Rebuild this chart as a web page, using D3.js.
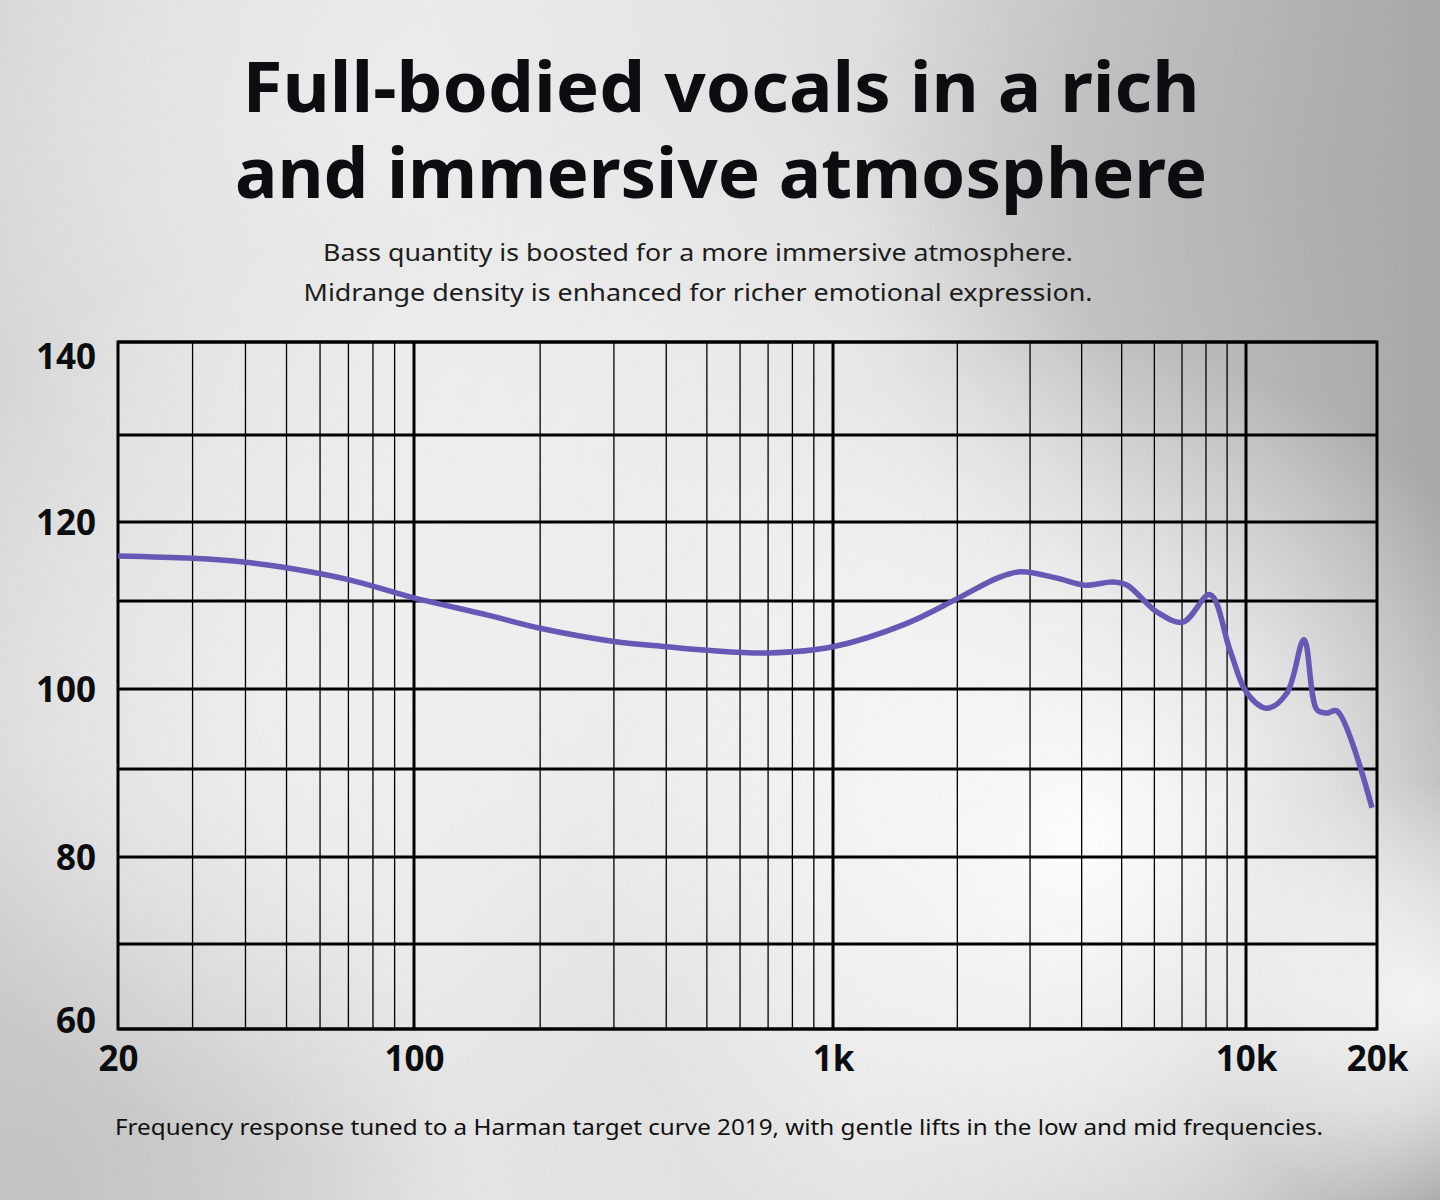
<!DOCTYPE html>
<html>
<head>
<meta charset="utf-8">
<script src="https://cdn.jsdelivr.net/npm/d3@7"></script>
<style>
  html, body { margin: 0; padding: 0; background: #d8d8d8; }
  svg { display: block; }
</style>
</head>
<body>
<div id="chart"></div>
<script>
// frequency response (Hz / dB)
const freqs = [20, 30, 40, 50, 70, 100, 150, 200, 300, 400, 500, 700, 1000, 1500, 2000, 2500, 2835, 3486, 4078, 4757, 5155, 6088, 7040, 8182, 9146, 10050, 11170, 12420, 13590, 14560, 15350, 16180, 19480];
const spl = [115.7, 115.4, 114.9, 114.2, 112.7, 110.4, 108.4, 106.9, 105.4, 104.8, 104.4, 104.1, 104.8, 107.4, 110.3, 112.9, 113.7, 112.9, 112.0, 112.4, 112.0, 108.75, 107.6, 110.8, 104.4, 99.5, 97.6, 99.5, 105.6, 97.4, 97.0, 97.25, 85.6];

const xTickValues = [20, 100, 1000, 10000, 20000];
const xTickLabels = ["20", "100", "1k", "10k", "20k"];
const yTickValues = [60, 80, 100, 120, 140];
const yGridValues = [60, 70, 80, 90, 100, 110, 120, 130, 140];

const titleLines = ["Full-bodied vocals in a rich", "and immersive atmosphere"];
const subLines = ["Bass quantity is boosted for a more immersive atmosphere.", "Midrange density is enhanced for richer emotional expression."];
const footnote = "Frequency response tuned to a Harman target curve 2019, with gentle lifts in the low and mid frequencies.";

const W = 1440, H = 1200;
const plotL = 118, plotR = 1377, plotT = 342, plotB = 1029;

const svg = d3.select("#chart").append("svg")
    .attr("width", W)
    .attr("height", H);

const defs = svg.append("defs");

// background: silver gradient with soft white glows
const lg = defs.append("linearGradient").attr("id", "bgLin")
    .attr("x1", 0).attr("y1", 0).attr("x2", 1).attr("y2", 0);
lg.append("stop").attr("offset", 0).attr("stop-color", "#d6d6d6");
lg.append("stop").attr("offset", 0.3).attr("stop-color", "#e6e6e6");
lg.append("stop").attr("offset", 0.6).attr("stop-color", "#e0e0e0");
lg.append("stop").attr("offset", 0.85).attr("stop-color", "#c2c2c2");
lg.append("stop").attr("offset", 1).attr("stop-color", "#a6a6a6");

function glow(id, cx, cy, r, color, op) {
    const g = defs.append("radialGradient").attr("id", id)
        .attr("gradientUnits", "userSpaceOnUse")
        .attr("cx", cx).attr("cy", cy).attr("r", r);
    g.append("stop").attr("offset", 0).attr("stop-color", color).attr("stop-opacity", op);
    g.append("stop").attr("offset", 0.5).attr("stop-color", color).attr("stop-opacity", op * 0.6);
    g.append("stop").attr("offset", 1).attr("stop-color", color).attr("stop-opacity", 0);
}
glow("darkTR", 1340, 180, 500, "#a8a8a8", 0.55);
glow("darkBL", 30, 1190, 440, "#bcbcbc", 0.75);
glow("glowTop", 380, 120, 460, "#f0f0f0", 0.75);
glow("glowLeft", 330, 700, 460, "#f6f6f6", 0.75);
glow("glowCen", 720, 520, 420, "#f4f4f4", 0.7);
glow("glowMid", 1080, 840, 500, "#ffffff", 1);
glow("glowBR", 1420, 1000, 220, "#ffffff", 0.85);

const noise = defs.append("filter").attr("id", "grain")
    .attr("x", 0).attr("y", 0).attr("width", "100%").attr("height", "100%");
noise.append("feTurbulence").attr("type", "fractalNoise")
    .attr("baseFrequency", 0.9).attr("numOctaves", 2).attr("seed", 3);
noise.append("feColorMatrix").attr("type", "saturate").attr("values", 0);

const bg = svg.append("g");
["bgLin", "darkTR", "darkBL", "glowTop", "glowLeft", "glowCen", "glowMid", "glowBR"].forEach(id => {
    bg.append("rect").attr("width", W).attr("height", H).attr("fill", `url(#${id})`);
});
bg.append("rect").attr("width", W).attr("height", H)
    .attr("filter", "url(#grain)").attr("opacity", 0.07);

// titles
const font = "'Noto Sans', 'Open Sans', sans-serif";
svg.selectAll(".title").data(titleLines).join("text")
    .attr("class", "title")
    .attr("x", 721)
    .attr("y", (d, i) => 112 + i * 86)
    .attr("text-anchor", "middle")
    .attr("font-family", font)
    .attr("font-weight", 700)
    .attr("font-size", 70)
    .attr("fill", "#0b0d10")
    .attr("textLength", (d, i) => i == 0 ? 957 : 972)
    .attr("lengthAdjust", "spacingAndGlyphs")
    .text(d => d);

svg.selectAll(".sub").data(subLines).join("text")
    .attr("class", "sub")
    .attr("x", 698)
    .attr("y", (d, i) => 261 + i * 40)
    .attr("text-anchor", "middle")
    .attr("font-family", font)
    .attr("font-size", 24)
    .attr("fill", "#1c1c1c")
    .attr("textLength", (d, i) => i == 0 ? 750 : 789)
    .attr("lengthAdjust", "spacingAndGlyphs")
    .text(d => d);

// scales (piecewise so the grid sits where the original artwork put it)
const x = d3.scaleLog()
    .domain([20, 100, 1000, 10000, 20000])
    .range([plotL, 414, 833, 1246, plotR]);
const y = d3.scaleLinear()
    .domain(yGridValues)
    .range([plotB, 944, 857, 769, 689, 601, 522, 435, plotT]);

// minor vertical grid (2..9 of each decade)
const minor = [];
[10, 100, 1000].forEach(dec => {
    for (let k = 2; k <= 9; k++) {
        const f = k * dec;
        if (f > 20 && f < 20000) minor.push(f);
    }
});
const grid = svg.append("g");
grid.selectAll(".vminor").data(minor).join("line")
    .attr("x1", d => x(d)).attr("x2", d => x(d))
    .attr("y1", plotT).attr("y2", plotB)
    .attr("stroke", "#000").attr("stroke-width", 1.3);
grid.selectAll(".vmajor").data([100, 1000, 10000]).join("line")
    .attr("x1", d => x(d)).attr("x2", d => x(d))
    .attr("y1", plotT).attr("y2", plotB)
    .attr("stroke", "#000").attr("stroke-width", 3);
grid.selectAll(".hline").data(yGridValues).join("line")
    .attr("x1", plotL).attr("x2", plotR)
    .attr("y1", d => y(d)).attr("y2", d => y(d))
    .attr("stroke", "#000").attr("stroke-width", 3);
grid.append("rect")
    .attr("x", plotL).attr("y", plotT)
    .attr("width", plotR - plotL).attr("height", plotB - plotT)
    .attr("fill", "none").attr("stroke", "#000").attr("stroke-width", 3);

// response curve
const line = d3.line()
    .x((d, i) => x(freqs[i]))
    .y(d => y(d))
    .curve(d3.curveCatmullRom.alpha(0.5));
svg.append("path")
    .datum(spl)
    .attr("d", line)
    .attr("fill", "none")
    .attr("stroke", "#6658b5")
    .attr("stroke-width", 5.5)
    .attr("stroke-linejoin", "round");

// axes (labels only)
const xAxis = svg.append("g")
    .attr("transform", `translate(0,${plotB})`)
    .call(d3.axisBottom(x).tickValues(xTickValues)
        .tickFormat((d, i) => xTickLabels[i]).tickSize(0).tickPadding(42));
xAxis.select(".domain").remove();
xAxis.selectAll("text")
    .attr("font-family", font).attr("font-weight", 700)
    .attr("font-size", 35).attr("fill", "#0b0d10")
    .attr("dy", 0);

const yAxis = svg.append("g")
    .attr("transform", `translate(${plotL},0)`)
    .call(d3.axisLeft(y).tickValues(yTickValues).tickSize(0).tickPadding(22));
yAxis.select(".domain").remove();
yAxis.selectAll(".tick")
    .attr("transform", d => `translate(0,${Math.max(plotT + 14, Math.min(plotB - 9, y(d)))})`);
yAxis.selectAll("text")
    .attr("font-family", font).attr("font-weight", 700)
    .attr("font-size", 35).attr("fill", "#0b0d10")
    .attr("dy", "0.36em");

svg.append("text")
    .attr("x", 719).attr("y", 1135)
    .attr("text-anchor", "middle")
    .attr("font-family", font)
    .attr("font-size", 22)
    .attr("fill", "#111")
    .attr("textLength", 1208)
    .attr("lengthAdjust", "spacingAndGlyphs")
    .text(footnote);
</script>
</body>
</html>
